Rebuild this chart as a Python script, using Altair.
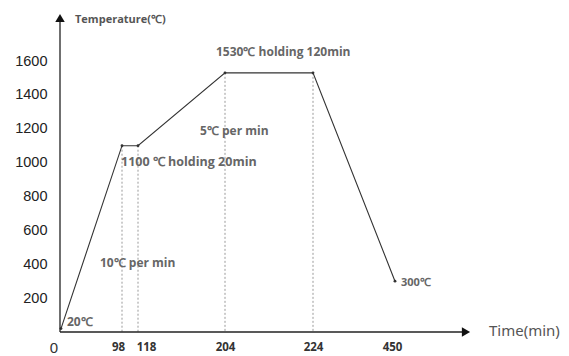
import altair as alt
import pandas as pd

# data
times = [0, 98, 118, 204, 224, 450]
temps = [20, 1100, 1100, 1530, 1530, 300]
x_ticks = [98, 118, 204, 224, 450]
y_ticks = [200, 400, 600, 800, 1000, 1200, 1400, 1600]

df = pd.DataFrame({"t": times, "T": temps})
df_hold = df.iloc[1:5].reset_index(drop=True)
one = pd.DataFrame({"k": [0]})

# schematic (non-uniform) time axis
xs = alt.Scale(domain=times, range=[1, 62, 78, 165, 253, 335], nice=False, zero=False)
ys = alt.Scale(domain=[0, 1600], range=[332, 61], nice=False)

FONT = "Liberation Sans"
ANN = "Open Sans"
GRAY = "#666666"

x_enc = alt.X("t:Q", scale=xs, axis=alt.Axis(
    values=x_ticks, domain=False, ticks=False, grid=False, title=None,
    labelFontSize=11.5, labelFontWeight="bold", labelColor="#333333", labelFont=ANN,
    labelPadding=9, labelFlush=False, format="d",
    labelOffset={"condition": [{"test": "datum.value == 98", "value": -4},
                               {"test": "datum.value == 118", "value": 8},
                               {"test": "datum.value == 450", "value": -3}],
                 "value": 0}))
y_enc = alt.Y("T:Q", scale=ys, axis=alt.Axis(values=y_ticks, domain=False, ticks=False, grid=False,
                                             title=None, labelFontSize=14.5, labelColor="#222222",
                                             labelFont=FONT, labelPadding=13, format="d"))

base = alt.Chart(df)

line = base.mark_line(color="#333333", strokeWidth=1.1).encode(x=x_enc, y=y_enc)
pts = base.mark_point(filled=True, color="#333333", size=8, opacity=1).encode(
    x=alt.X("t:Q", scale=xs), y=alt.Y("T:Q", scale=ys))

drops = alt.Chart(df_hold).mark_rule(color="#9a9a9a", strokeDash=[2, 2], strokeWidth=1).encode(
    x=alt.X("t:Q", scale=xs), y=alt.Y("T:Q", scale=ys), y2=alt.datum(0))

# axis lines and arrows
yaxis = alt.Chart(one).mark_rule(color="#222222", strokeWidth=1.3).encode(
    x=alt.value(0), y=alt.value(332), y2=alt.value(22))
xaxis = alt.Chart(one).mark_rule(color="#222222", strokeWidth=1.3).encode(
    x=alt.value(0), x2=alt.value(402), y=alt.value(332))
yarrow = alt.Chart(one).mark_point(shape="triangle-up", filled=True, color="#111111", size=90, opacity=1).encode(
    x=alt.value(0), y=alt.value(18))
xarrow = alt.Chart(one).mark_point(shape="triangle-right", filled=True, color="#111111", size=90, opacity=1).encode(
    x=alt.value(406), y=alt.value(332))


def txt(s, x, y, size=12, color=GRAY, align="left", font=ANN, weight="normal"):
    return alt.Chart(one).mark_text(text=s, align=align, baseline="middle", fontSize=size,
                                    color=color, font=font, fontWeight=weight).encode(
        x=alt.value(x - 60), y=alt.value(y))


labels = [
    txt("Temperature(℃)", 75, 20, 11, "#555555", weight="bold"),
    txt("1530℃ holding 120min", 216, 52, 12, GRAY, weight="bold"),
    txt("5℃ per min", 200, 131, 12, GRAY, weight="bold"),
    txt("1100 ℃ holding 20min", 121, 162, 12.5, GRAY, weight="bold"),
    txt("10℃ per min", 100, 263, 12, GRAY, weight="bold"),
    txt("20℃", 67, 322, 12, GRAY, weight="bold"),
    txt("300℃", 401, 283, 11, GRAY, weight="bold"),
    txt("Time(min)", 489, 331, 15, "#555555", font="Noto Sans"),
    txt("0", 54, 348, 15, "#333333", align="center", font=FONT),
]

chart = alt.layer(drops, line, pts, yaxis, xaxis, yarrow, xarrow, *labels).properties(
    width=509, height=332,
    padding={"left": 60, "top": 0, "right": 0, "bottom": 24},
    autosize=alt.AutoSizeParams(type="none"),
    background="white",
).configure_view(stroke=None)

chart.save("out.html", embed_options={"renderer": "svg", "actions": False})
